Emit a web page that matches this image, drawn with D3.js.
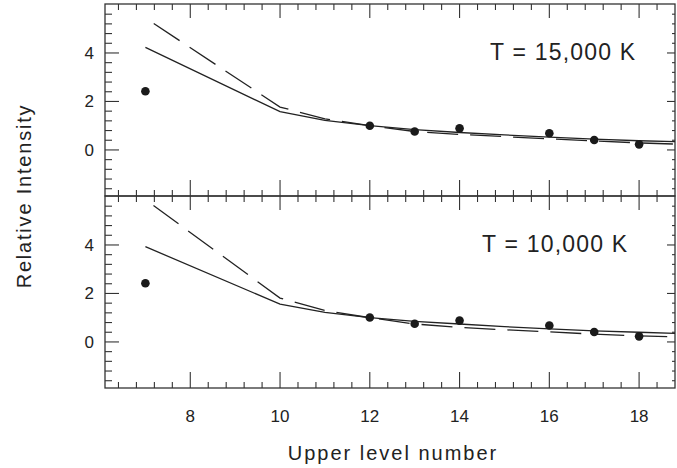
<!DOCTYPE html>
<html>
<head>
<meta charset="utf-8">
<script src="https://cdn.jsdelivr.net/npm/d3@7"></script>
<style>
  body { margin: 0; background: #fff; }
  text { font-family: "Liberation Sans", Arial, sans-serif; fill: #222; }
</style>
</head>
<body>
<div id="chart"></div>
<script>
/***** Data */

// observed lines (filled dots)
const obsLevels = [7, 12, 13, 14, 16, 17, 18];
const obs15000 = [2.42, 1.0, 0.76, 0.89, 0.69, 0.41, 0.23];
const obs10000 = [2.42, 1.01, 0.75, 0.88, 0.68, 0.41, 0.23];

// model curves
const modelLevels = [7, 10, 11, 12, 13, 14, 15, 16, 17, 18, 19];
const solid15000 = [4.23, 1.58, 1.22, 1.0, 0.84, 0.72, 0.62, 0.53, 0.45, 0.38, 0.33];
const dashed15000 = [5.44, 1.77, 1.28, 1.0, 0.76, 0.64, 0.55, 0.46, 0.37, 0.29, 0.23];
const solid10000 = [3.93, 1.56, 1.22, 1.0, 0.85, 0.74, 0.63, 0.54, 0.46, 0.40, 0.34];
const dashed10000 = [5.87, 1.81, 1.30, 1.0, 0.74, 0.60, 0.50, 0.42, 0.32, 0.25, 0.20];

const panelLabels = ['T = 15,000 K', 'T = 10,000 K'];
const xTickLabels = [8, 10, 12, 14, 16, 18];
const yTickLabels = [0, 2, 4];

/***** Layout */

const width = 677, height = 468;
const left = 105, right = 675;
const panelTops = [4, 196];
const panelHeight = 192;

const svg = d3.select('#chart').append('svg')
    .attr('width', width)
    .attr('height', height);

const x = d3.scaleLinear().domain([6.1, 18.8]).range([left, right]);

// minor ticks every 0.4
const xMinor = d3.range(16, 48).map(i => +(i * 0.4).toFixed(1))
    .filter(v => v > 6.1 && v < 18.8 && !xTickLabels.includes(v));
const yMinor = d3.range(-4, 15).map(i => +(i * 0.4).toFixed(1))
    .filter(v => v > -1.9 && v < 6.02 && !yTickLabels.includes(v));

const panels = [
    { label: panelLabels[0], obs: obs15000, solid: solid15000, dashed: dashed15000, labelX: 490 },
    { label: panelLabels[1], obs: obs10000, solid: solid10000, dashed: dashed10000, labelX: 482 }
];

svg.append('defs').append('clipPath')
    .attr('id', 'plotClip')
    .append('rect')
    .attr('x', left).attr('y', 0)
    .attr('width', right - left).attr('height', panelHeight);

panels.forEach((panel, p) => {
    const top = panelTops[p];
    const y = d3.scaleLinear().domain([-1.9, 6.02]).range([panelHeight, 0]);
    const g = svg.append('g').attr('transform', `translate(0,${top})`);

    // ticks, all pointing inward
    const tickLine = (x1, y1, x2, y2) => g.append('line')
        .attr('x1', x1).attr('y1', y1).attr('x2', x2).attr('y2', y2)
        .attr('stroke', '#333').attr('stroke-width', 1.1);

    xTickLabels.forEach(v => {
        tickLine(x(v), 0, x(v), 14);
        tickLine(x(v), panelHeight, x(v), panelHeight - 16);
    });
    xMinor.forEach(v => {
        tickLine(x(v), 0, x(v), 6);
        tickLine(x(v), panelHeight, x(v), panelHeight - 6);
    });
    yTickLabels.forEach(v => {
        tickLine(left, y(v), left + 14, y(v));
        tickLine(right, y(v), right - 8, y(v));
    });
    yMinor.forEach(v => {
        tickLine(left, y(v), left + 7, y(v));
        tickLine(right, y(v), right - 3, y(v));
    });

    // frame
    g.append('rect')
        .attr('x', left).attr('y', 0)
        .attr('width', right - left).attr('height', panelHeight)
        .attr('fill', 'none').attr('stroke', '#333').attr('stroke-width', 1.3);

    // y tick labels
    g.selectAll('.yLabel')
        .data(yTickLabels)
        .enter()
        .append('text')
        .attr('class', 'yLabel')
        .attr('x', 94)
        .attr('y', v => y(v) + 6)
        .attr('text-anchor', 'end')
        .style('font-size', '17px')
        .text(v => v);

    const plot = g.append('g').attr('clip-path', 'url(#plotClip)');

    const line = d3.line()
        .x((d, i) => x(modelLevels[i]))
        .y(d => y(d));

    plot.append('path')
        .datum(panel.dashed)
        .attr('d', line)
        .attr('fill', 'none')
        .attr('stroke', '#222')
        .attr('stroke-width', 1.3)
        .attr('stroke-dasharray', '31,12')
        .attr('stroke-dashoffset', 33);

    plot.append('path')
        .datum(panel.solid)
        .attr('d', line)
        .attr('fill', 'none')
        .attr('stroke', '#222')
        .attr('stroke-width', 1.3);

    plot.selectAll('.dot')
        .data(panel.obs)
        .enter()
        .append('circle')
        .attr('class', 'dot')
        .attr('cx', (d, i) => x(obsLevels[i]))
        .attr('cy', d => y(d))
        .attr('r', 4.3)
        .attr('fill', '#1a1a1a');

    g.append('text')
        .attr('x', panel.labelX)
        .attr('y', 56)
        .style('font-size', '23px')
        .style('letter-spacing', '1.2px')
        .text(panel.label);
});

// x tick labels under bottom panel
svg.selectAll('.xLabel')
    .data(xTickLabels)
    .enter()
    .append('text')
    .attr('class', 'xLabel')
    .attr('x', v => x(v))
    .attr('y', 422)
    .attr('text-anchor', 'middle')
    .style('font-size', '17px')
    .text(v => v);

svg.append('text')
    .attr('x', 393)
    .attr('y', 460)
    .attr('text-anchor', 'middle')
    .style('font-size', '20px')
    .style('letter-spacing', '2px')
    .text('Upper level number');

svg.append('text')
    .attr('transform', 'translate(31,196) rotate(-90)')
    .attr('text-anchor', 'middle')
    .style('font-size', '20px')
    .style('letter-spacing', '1.8px')
    .text('Relative Intensity');
</script>
</body>
</html>
